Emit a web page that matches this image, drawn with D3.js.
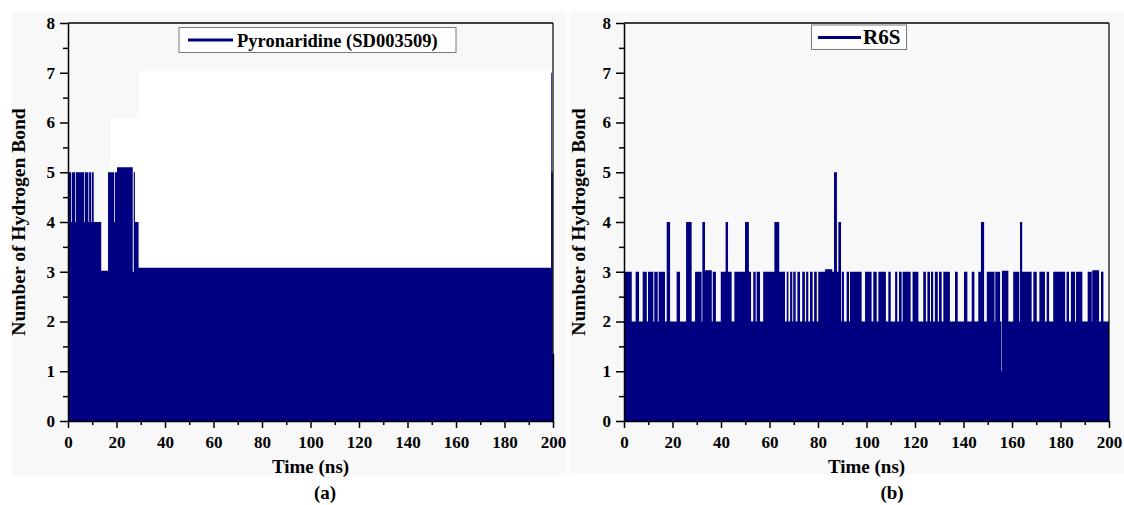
<!DOCTYPE html>
<html>
<head>
<meta charset="utf-8">
<script src="https://cdn.jsdelivr.net/npm/d3@7"></script>
<style>
  html, body { margin: 0; padding: 0; background: #ffffff; }
  svg { display: block; }
  text { font-family: "Liberation Serif", "Times New Roman", serif; font-weight: bold; fill: #000; }
</style>
</head>
<body>
<svg id="chart" width="1124" height="505"></svg>
<script>
// ---------------- DATA ----------------
const xTicks = [0, 20, 40, 60, 80, 100, 120, 140, 160, 180, 200];
const yTicks = [0, 1, 2, 3, 4, 5, 6, 7, 8];
const xLabel = "Time (ns)";
const yLabel = "Number of Hydrogen Bond";

// Panel (a): Pyronaridine (SD003509) — step envelope (time in ns, H-bond count)
const pyroName = "Pyronaridine (SD003509)";
const pyroTime = [0, 1.3, 1.6, 2.9, 3.2, 6.6, 6.9, 8.4, 8.7, 9.5, 9.8, 10.6, 13.7, 16.5, 19.0, 19.3, 20.2, 26.7, 27.1, 27.6, 29.1, 199.2, 199.5, 199.9, 200.5];
const pyroHB   = [5,   4,   5,   4,   5,   4,   5,   4,   5,   4,   5,   4,    3.02, 5,    4,    5,    5.1,  3,    5,    4,    3.08, 7,     5,     1.35,  1.35];

// Panel (b): R6S — step envelope (time in ns, H-bond count)
const r6sName = "R6S";
const r6sTime = [0, 0.4, 3.2, 4.8, 6.2, 7.7, 9.4, 9.9, 12.1, 12.5, 13.9, 14.3, 16.9, 17.6, 19.0, 21.7, 23.1, 25.6, 27.9, 29.3, 32.0, 32.3, 33.4, 36.2, 36.6, 37.9, 39.9, 41.9, 42.9, 44.4, 45.5, 49.9, 51.5, 52.4, 53.3, 54.3, 54.7, 56.1, 57.4, 62.0, 64.0, 66.4, 67.1, 67.8, 68.5, 69.4, 69.8, 70.8, 71.5, 72.6, 73.5, 74.6, 75.1, 76.0, 76.7, 77.8, 78.4, 79.5, 80.1, 82.9, 85.9, 86.6, 87.8, 88.4, 89.5, 89.8, 90.7, 91.8, 92.8, 93.2, 98.0, 99.4, 102.1, 102.8, 104.2, 104.9, 108.0, 109.0, 110.0, 111.8, 112.7, 113.4, 114.5, 114.9, 118.2, 119.0, 121.4, 123.4, 124.5, 125.1, 126.2, 126.6, 127.5, 128.2, 129.4, 129.9, 131.0, 131.7, 134.4, 136.5, 137.6, 140.2, 141.6, 143.4, 144.5, 146.1, 147.2, 148.5, 149.6, 152.8, 153.1, 155.1, 155.65, 155.85, 158.5, 160.5, 163.0, 163.3, 164.2, 168.1, 168.8, 170.2, 171.3, 173.6, 174.3, 175.3, 177.0, 181.9, 182.5, 183.5, 184.3, 186.0, 186.4, 189.0, 191.2, 192.9, 193.1, 195.9, 196.7, 197.7, 200];
const r6sHB   = [2, 3,   2,   3,   2,   3,   2,   3,   2,    3,    2,    3,    2,    4,    2,    3,    2,    4,    2,    3,    2,    4,    3.03, 2,    3,    2,    3,    4,    3,    2,    3,    4,    3,    2,    3,    2,    3,    2,    3,    4,    3,    2,    3,    2,    3,    2,    3,    2,    3,    2,    3,    2,    3,    2,    3,    2,    3,    2,    3,    3.05, 3,    5,    3,    4,    2,    3,    2,    3,    2,    3,    2,    3,    2,     3,     2,     3,     2,     3,     2,     3,     2,     3,     2,     3,     2,     3,     2,     3,     2,     3,     2,     3,     2,     3,     2,     3,     2,     3,     2,     3,     2,     3,     2,     3,     2,     3,     4,     2,     3,     2,     3,     2,     1,      3.02,   2,     3,     2,     4,     3,     2,     3,     2,     3,     2,     3,     2,     3,     2,     3,     2,     3,     2,     3,     2,     3,     2,     3.03,  2,     3,     2,     2];

// ---------------- DRAW ----------------
const svg = d3.select("#chart");
const lineColor = "#000080";

svg.append("rect").attr("x", 0).attr("y", 0).attr("width", 1124).attr("height", 505).attr("fill", "#ffffff");

function drawPanel(cfg) {
  const g = svg.append("g");
  // light gray figure background
  g.append("rect").attr("x", cfg.bg[0]).attr("y", cfg.bg[1])
    .attr("width", cfg.bg[2]).attr("height", cfg.bg[3]).attr("fill", "#f8f8f8");

  const x = d3.scaleLinear().domain([0, 200]).range([cfg.left, cfg.right]);
  const y = d3.scaleLinear().domain([0, 8]).range([cfg.bottom, cfg.top]);

  // white patches seen in the scanned plot area
  (cfg.patches || []).forEach(p => {
    g.append("rect").attr("x", x(p[0])).attr("y", y(p[3]))
      .attr("width", x(p[1]) - x(p[0])).attr("height", y(p[2]) - y(p[3]))
      .attr("fill", "#ffffff");
  });

  const data = cfg.time.map((t, i) => ({ t: t, v: cfg.vals[i] }));
  const area = d3.area()
    .x(d => x(d.t))
    .y0(y(0))
    .y1(d => y(d.v))
    .curve(d3.curveStepAfter);
  g.append("path").datum(data).attr("d", area).attr("fill", lineColor);

  // frame (top + right)
  g.append("line").attr("x1", cfg.left).attr("x2", cfg.right).attr("y1", cfg.top).attr("y2", cfg.top)
    .attr("stroke", "#000").attr("stroke-width", 1.5);
  g.append("line").attr("x1", cfg.right).attr("x2", cfg.right).attr("y1", cfg.top).attr("y2", cfg.bottom)
    .attr("stroke", "#000").attr("stroke-width", 1.2);

  // minor ticks
  const xMinor = d3.axisBottom(x).tickValues(d3.range(10, 200, 20)).tickSize(4).tickFormat("");
  const yMinor = d3.axisLeft(y).tickValues(d3.range(0.5, 8, 1)).tickSize(5).tickFormat("");
  g.append("g").attr("transform", `translate(0,${cfg.bottom})`).call(xMinor)
    .call(s => s.select(".domain").remove())
    .selectAll("line").attr("stroke", "#000").attr("stroke-width", 1.5);
  g.append("g").attr("transform", `translate(${cfg.left},0)`).call(yMinor)
    .call(s => s.select(".domain").remove())
    .selectAll("line").attr("stroke", "#000").attr("stroke-width", 1.5);

  // major axes
  const xAxis = d3.axisBottom(x).tickValues(xTicks).tickSize(7).tickPadding(8).tickSizeOuter(0);
  const yAxis = d3.axisLeft(y).tickValues(yTicks).tickSize(8).tickPadding(5).tickSizeOuter(0);
  const gx = g.append("g").attr("transform", `translate(0,${cfg.bottom})`).call(xAxis);
  const gy = g.append("g").attr("transform", `translate(${cfg.left},0)`).call(yAxis);
  [gx, gy].forEach(a => {
    a.select(".domain").attr("stroke", "#000").attr("stroke-width", 1.5);
    a.selectAll(".tick line").attr("stroke", "#000").attr("stroke-width", 1.5);
    a.selectAll(".tick text").style("font-family", '"Liberation Serif", serif')
      .style("font-weight", "bold").style("font-size", "17px").attr("fill", "#000");
  });

  // axis titles
  g.append("text").attr("x", (cfg.left + cfg.right) / 2).attr("y", 473)
    .attr("text-anchor", "middle").style("font-size", "19px").text(xLabel);
  g.append("text").attr("transform", `translate(${cfg.yTitleX},${222}) rotate(-90)`)
    .attr("text-anchor", "middle").style("font-size", "19.5px").text(yLabel);

  // panel letter
  g.append("text").attr("x", cfg.letterX).attr("y", 499)
    .attr("text-anchor", "middle").style("font-size", "19px").text(cfg.letter);

  // legend
  const L = cfg.legend;
  g.append("rect").attr("x", L.x).attr("y", L.y).attr("width", L.w).attr("height", L.h)
    .attr("fill", "#ffffff").attr("stroke", "#7a7a7a").attr("stroke-width", 1);
  g.append("line").attr("x1", L.lx1).attr("x2", L.lx2).attr("y1", L.ly).attr("y2", L.ly)
    .attr("stroke", lineColor).attr("stroke-width", 2.8);
  g.append("text").attr("x", L.tx).attr("y", L.ty).style("font-size", L.fs).text(cfg.name);
}

drawPanel({
  left: 68, right: 553, top: 23, bottom: 421,
  bg: [12, 12, 554, 463],
  time: pyroTime, vals: pyroHB, name: pyroName,
  patches: [[17.5, 29.3, 0, 6.1], [29.3, 199.2, 0, 7.04]],
  yTitleX: 25, letter: "(a)", letterX: 325,
  legend: { x: 179, y: 27.5, w: 277, h: 25, lx1: 188, lx2: 233, ly: 40, tx: 237, ty: 46.5, fs: "18.5px" }
});

drawPanel({
  left: 624, right: 1109, top: 23, bottom: 421,
  bg: [570, 12, 554, 462],
  time: r6sTime, vals: r6sHB, name: r6sName,
  patches: [],
  yTitleX: 585, letter: "(b)", letterX: 892,
  legend: { x: 811.5, y: 25, w: 95, h: 24.5, lx1: 818, lx2: 861, ly: 37.5, tx: 863, ty: 44, fs: "21px" }
});
</script>
</body>
</html>
